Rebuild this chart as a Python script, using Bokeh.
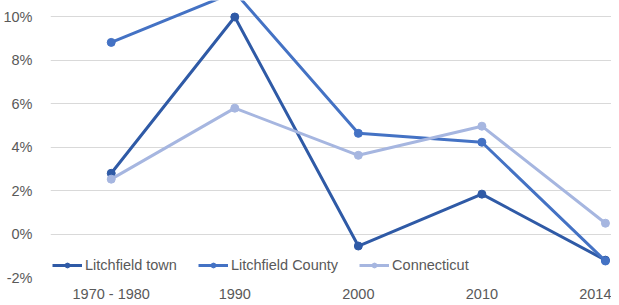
from bokeh.plotting import figure
from bokeh.models import Legend, LegendItem, FixedTicker, Range1d
from bokeh.embed import file_html
from bokeh.resources import INLINE

categories = ["1970 - 1980", "1990", "2000", "2010", "2014"]
town = [2.8, 10.0, -0.55, 1.84, -1.2]
county = [8.83, 11.15, 4.64, 4.23, -1.24]
connecticut = [2.53, 5.8, 3.63, 4.97, 0.5]
y_ticks = [-2, 0, 2, 4, 6, 8, 10]

xs = list(range(len(categories)))

p = figure(width=611, height=305, output_backend="svg", toolbar_location=None,
           x_range=Range1d(-0.4915, 4.049), y_range=Range1d(-2, 10.76),
           min_border_left=42, min_border_right=0, min_border_top=0, min_border_bottom=28)
p.margin = (0, -8, 0, 0)
p.outline_line_color = None
p.background_fill_color = "white"
p.border_fill_color = "white"

p.xgrid.grid_line_color = None
p.ygrid.grid_line_color = "#d9d9d9"
p.ygrid.grid_line_width = 1
p.ygrid.ticker = FixedTicker(ticks=y_ticks)

p.yaxis.ticker = FixedTicker(ticks=y_ticks)
p.yaxis.major_label_overrides = {t: f"{t}%" for t in y_ticks}
p.xaxis.ticker = FixedTicker(ticks=xs)
p.xaxis.major_label_overrides = {i: c for i, c in enumerate(categories)}
for ax in (p.xaxis[0], p.yaxis[0]):
    ax.axis_line_color = None
    ax.major_tick_line_color = None
    ax.minor_tick_line_color = None
    ax.major_label_text_font = "Liberation Sans"
    ax.major_label_text_font_size = "14.5px"
    ax.major_label_text_color = "#595959"
p.yaxis.major_label_standoff = 12
p.xaxis.major_label_standoff = 2

series = [("Litchfield town", town, "#2F5AA6"),
          ("Litchfield County", county, "#4472C4"),
          ("Connecticut", connecticut, "#A6B6E0")]
items = []
for name, vals, col in series:
    r1 = p.line(xs, vals, line_color=col, line_width=3)
    r2 = p.scatter(xs, vals, size=8, fill_color=col, line_color=col)
    items.append(LegendItem(label=name, renderers=[r1, r2]))

legend = Legend(items=items, orientation="horizontal", location=(2, 4),
                glyph_width=30, glyph_height=12, label_standoff=3, spacing=21,
                padding=0, margin=0,
                label_text_font="Liberation Sans", label_text_font_size="14.5px",
                label_text_color="#595959", background_fill_alpha=0,
                border_line_color=None)
p.add_layout(legend, "center")

open("out.html", "w").write(file_html(p, INLINE))
